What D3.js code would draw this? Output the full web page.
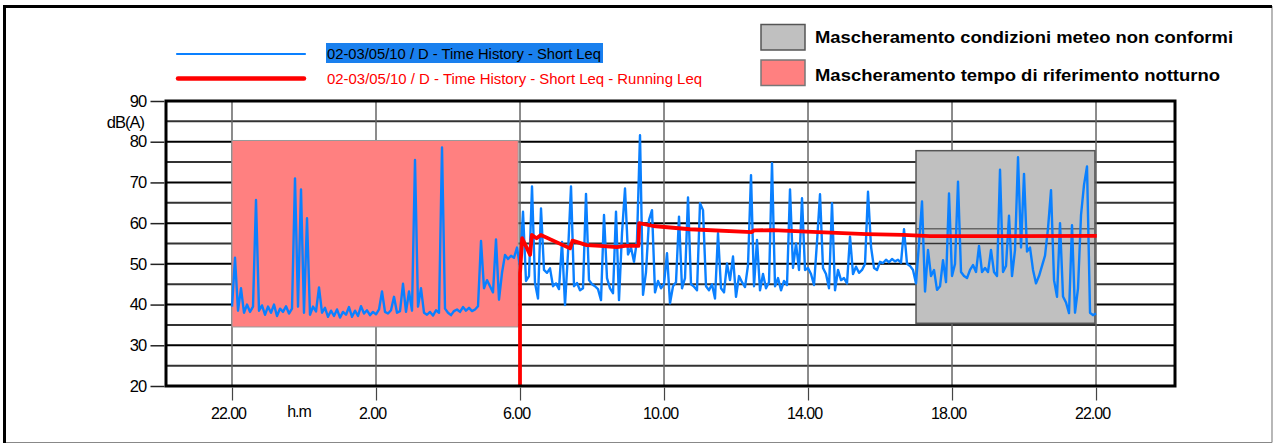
<!DOCTYPE html>
<html><head><meta charset="utf-8">
<script src="https://cdn.jsdelivr.net/npm/d3@7"></script>
<style>
body{margin:0;background:#fff;}
svg{display:block;font-family:"Liberation Sans",Arial,sans-serif;}
</style>
</head><body>
<svg id="c" width="1274" height="444"></svg>
<script>
// ---------- DATA ----------
// hours counted from 22.00 of first day
const xTickHours = [0, 4, 8, 12, 16, 20, 24];
const xTickLabels = ["22.00", "2.00", "6.00", "10.00", "14.00", "18.00", "22.00"];
const yTickValues = [20, 30, 40, 50, 60, 70, 80, 90];
const yGridValues = [25, 30, 35, 40, 45, 50, 55, 60, 65, 70, 75, 80, 85];

// Short Leq, one value every 5 minutes starting at 22.00
const shortLeqStepMin = 5;
const shortLeq = [
 39.5,51.5,38.5,44,38,40,38.2,39.5,65.7,38.5,
 39.8,37.5,39.5,38,40,37.2,39,38.2,39.6,37.8,
 39,71,39.5,68.3,38,61.2,37.5,39.5,38.3,44.2,
 38,39.2,37,38.5,37.2,38.8,36.8,38.2,37.5,39.4,
 37,38.5,37.2,39.6,37.8,38.6,37.4,38.2,37.6,38.8,
 43.2,38.2,37.8,38.6,41.9,38,38.4,45.1,38.2,43.2,
 38.5,75.5,39.5,44,38,37.5,38.2,37.3,38.6,38,
 78.6,39,38,37.4,38.4,38.8,38.2,39.4,38.5,39.2,
 38.4,38.8,39.6,55.6,44,46,44.5,43,56,41.2,
 47.8,52.2,51.2,52,51.5,54,49.3,62.8,45.8,47,
 69,45.3,41.5,63.6,48.5,47.8,48.9,44.5,45.2,43.8,
 55.4,39.9,52.7,69,44.5,45.3,43.5,44,67.2,46,
 45,44.5,43.8,41.1,62,46.5,44,42.8,62.8,41.1,
 57.5,68.5,52.3,54,50.5,55.9,81.6,42.4,48,60.8,
 63.2,43,45.8,44,45,52.6,40.3,44.5,45.5,61.6,
 44,46.5,66.3,45,44.4,43.5,64.9,63.2,44.5,43.5,
 45,41.5,57.5,44,43,50.1,46,51.8,41.9,47,
 45.5,44.3,49.7,71.8,44.5,55.9,43.5,47.5,44,45.5,
 74.7,44.5,46.5,43.5,45.8,44.8,68.3,49,55,48.5,
 66.1,48.5,49,47.5,44.8,55.4,67.1,49,47.5,44,
 64.9,43.5,48.5,46,46.5,45.2,56.7,47.5,49.3,47.8,
 48.5,50,67.7,54.2,49,48.5,50.5,50.2,51,50.4,
 51.2,50.6,51,50.3,58.5,50,49.5,48.5,45.2,55,
 65.3,43.2,53.4,47,48.5,43.6,44.5,50.9,45.5,67.3,
 47,50,70.2,48,47,46.5,48.5,49.7,48,54.4,
 48,49,48,53.4,48,47,73.1,48,49.5,61.8,
 47,53.4,76.2,54,72.1,53,54,48.5,45.2,47,
 49.5,52,58.7,68.1,46,41.9,60,42,40.5,37.9,
 59.5,38,44,62,69.4,73.9,38,37.4,37.8
];

// Running Leq
const runningHours = [8.0, 8.0, 8.06, 8.28, 8.33, 8.46, 8.58, 9.39, 9.46, 9.85, 10.22, 10.69, 10.92, 11.29, 11.31, 11.7, 12.72, 14.44, 14.5, 15.02, 15.96, 17.63, 18.64, 19.39, 24.02];
const runningLeq   = [20, 47.7, 56.3, 52.2, 57.1, 56.3, 57.1, 53.8, 55.7, 54.6, 54.4, 54.1, 54.4, 54.4, 60.0, 59.3, 58.5, 57.8, 58.2, 58.3, 57.9, 57.3, 57.1, 56.8, 56.85];

// masking areas
const maskLabels = ["Mascheramento condizioni meteo non conformi", "Mascheramento tempo di riferimento notturno"];
const maskColors = ["#C0C0C0", "#FF8080"];
const maskFrom = [19.0, 0.0];
const maskTo   = [23.97, 7.95];
const maskLow  = [35.4, 34.5];
const maskHigh = [77.8, 80.3];

const seriesLabels = ["02-03/05/10 / D - Time History - Short Leq", "02-03/05/10 / D - Time History - Short Leq - Running Leq"];
const seriesColors = ["#0A80FF", "#FF0000"];

// ---------- DRAW ----------
const svg = d3.select("#c");
const P = {left:166, right:1175, top:101, bottom:386};
const x = d3.scaleLinear().domain([-1.8333, 26.194]).range([P.left, P.right]);
const y = d3.scaleLinear().domain([20, 90]).range([P.bottom, P.top]);

svg.append("rect").attr("width",1274).attr("height",444).attr("fill","#fff");

// outer frame
svg.append("line").attr("x1",1272).attr("y1",6).attr("x2",1272).attr("y2",442.5).attr("stroke","#888").attr("stroke-width",1.2);
svg.append("line").attr("x1",4).attr("y1",442.5).attr("x2",1272).attr("y2",442.5).attr("stroke","#888").attr("stroke-width",1.2);
svg.append("line").attr("x1",4.5).attr("y1",5).attr("x2",4.5).attr("y2",443).attr("stroke","#000").attr("stroke-width",3);
svg.append("line").attr("x1",3).attr("y1",6.5).attr("x2",1272).attr("y2",6.5).attr("stroke","#000").attr("stroke-width",3);

// horizontal grid
svg.append("g").selectAll("line").data(yGridValues).join("line")
  .attr("x1",P.left).attr("x2",P.right)
  .attr("y1",d=>y(d)).attr("y2",d=>y(d))
  .attr("stroke",d=> d%10===0 ? "#000" : "#333").attr("stroke-width",2);

// vertical grid
svg.append("g").selectAll("line").data(xTickHours).join("line")
  .attr("x1",d=>x(d)).attr("x2",d=>x(d))
  .attr("y1",P.top).attr("y2",P.bottom)
  .attr("stroke","#666").attr("stroke-width",1.5);

// masks
svg.append("g").selectAll("rect").data(maskFrom).join("rect")
  .attr("x",(d,i)=>x(maskFrom[i])).attr("width",(d,i)=>x(maskTo[i])-x(maskFrom[i]))
  .attr("y",(d,i)=>y(maskHigh[i])).attr("height",(d,i)=>y(maskLow[i])-y(maskHigh[i]))
  .attr("fill",(d,i)=>maskColors[i])
  .attr("stroke",(d,i)=> i===0 ? "#555" : "#999").attr("stroke-width",(d,i)=> i===0 ? 1.5 : 1);

// band lines inside gray mask
[55, 58.6].forEach((v,k)=>{
  svg.append("line").attr("x1",x(maskFrom[0])).attr("x2",x(maskTo[0]))
    .attr("y1",y(v)).attr("y2",y(v)).attr("stroke",k===0?"#333":"#666").attr("stroke-width",1.5);
});

// short leq line
const line = d3.line().x(d=>x(d[0])).y(d=>y(d[1]));
const shortPts = shortLeq.map((v,i)=>[i*shortLeqStepMin/60, v]);
svg.append("path").datum(shortPts).attr("d",line)
  .attr("fill","none").attr("stroke",seriesColors[0]).attr("stroke-width",2.4).attr("stroke-linejoin","round");

// running leq
const runPts = runningHours.map((h,i)=>[h, runningLeq[i]]);
svg.append("path").datum(runPts).attr("d",line)
  .attr("fill","none").attr("stroke",seriesColors[1]).attr("stroke-width",3.8).attr("stroke-linejoin","round");

// plot frame
svg.append("rect").attr("x",P.left).attr("y",P.top).attr("width",P.right-P.left).attr("height",P.bottom-P.top)
  .attr("fill","none").attr("stroke","#000").attr("stroke-width",3);

// y axis
const ya = svg.append("g").attr("transform",`translate(${P.left-1.5},0)`)
  .call(d3.axisLeft(y).tickValues(yTickValues).tickSize(14).tickPadding(4).tickFormat(d3.format("d")));
ya.select(".domain").remove();
ya.selectAll(".tick line").attr("stroke","#222").attr("stroke-width",1.5);
ya.selectAll(".tick text").attr("font-size",16.5).attr("fill","#000").attr("font-family","Liberation Sans, Arial, sans-serif").attr("letter-spacing",-0.8);

svg.append("text").attr("x",144).attr("y",128).attr("text-anchor","end")
  .attr("font-size",16.5).attr("letter-spacing",-1).text("dB(A)");

// x axis
const xa = svg.append("g").attr("transform",`translate(0,${P.bottom+1.5})`)
  .call(d3.axisBottom(x).tickValues(xTickHours).tickSize(13).tickPadding(7).tickFormat((d,i)=>xTickLabels[i]));
xa.select(".domain").remove();
xa.selectAll(".tick line").attr("stroke","#444").attr("stroke-width",1.2);
xa.selectAll(".tick text").attr("font-size",16).attr("fill","#000").attr("font-family","Liberation Sans, Arial, sans-serif")
  .attr("letter-spacing",-1).attr("dx",-4);

svg.append("text").attr("x",299).attr("y",417).attr("text-anchor","middle")
  .attr("font-size",16).attr("letter-spacing",-1).text("h.m");

// legend: series
svg.append("line").attr("x1",177).attr("x2",305).attr("y1",54).attr("y2",54)
  .attr("stroke",seriesColors[0]).attr("stroke-width",2.2).attr("stroke-linecap","round");
svg.append("line").attr("x1",178).attr("x2",304).attr("y1",78.5).attr("y2",78.5)
  .attr("stroke",seriesColors[1]).attr("stroke-width",4.5).attr("stroke-linecap","round");
svg.append("rect").attr("x",326).attr("y",43).attr("width",277).attr("height",20).attr("fill","#1A80EE");
svg.append("text").attr("x",327).attr("y",59).attr("font-size",15).attr("fill","#000")
  .attr("textLength",274).attr("lengthAdjust","spacingAndGlyphs").text(seriesLabels[0]);
svg.append("text").attr("x",327).attr("y",83.5).attr("font-size",15).attr("fill",seriesColors[1])
  .attr("textLength",375).attr("lengthAdjust","spacingAndGlyphs").text(seriesLabels[1]);

// legend: masks
const legY = [24.5, 60];
const legTxtY = [42.5, 81];
const legLen = [418, 405];
maskLabels.forEach((lab,i)=>{
  svg.append("rect").attr("x",761).attr("y",legY[i]).attr("width",44).attr("height",25.5)
    .attr("fill",maskColors[i]).attr("stroke",i===0?"#555":"#777").attr("stroke-width",1.5);
  svg.append("text").attr("x",815).attr("y",legTxtY[i]).attr("font-size",16.5).attr("font-weight","bold")
    .attr("fill","#000").attr("textLength",legLen[i]).attr("lengthAdjust","spacingAndGlyphs").text(lab);
});
</script>
</body></html>
